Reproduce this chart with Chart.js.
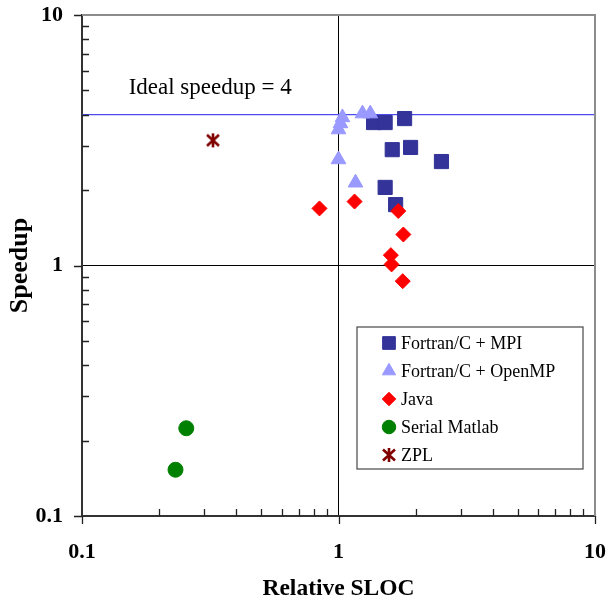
<!DOCTYPE html>
<html>
<head>
<meta charset="utf-8">
<script src="https://cdn.jsdelivr.net/npm/chart.js@4/dist/chart.umd.min.js"></script>
<style>
  html, body { margin: 0; padding: 0; background: #fff; }
  #wrap { width: 607px; height: 601px; }
</style>
</head>
<body>
<div id="wrap"><canvas id="chart" width="607" height="601"></canvas></div>
<script>
// Speedup vs relative SLOC, log-log

const mpiSloc = [1.37, 1.52, 1.81, 1.62, 1.91, 2.52, 1.52, 1.67];
const mpiSpeedup = [3.72, 3.72, 3.86, 2.90, 2.96, 2.60, 2.05, 1.75];

const ompSloc = [1.036, 1.018, 1.0, 1.24, 1.33, 1.0, 1.165];
const ompSpeedup = [3.90, 3.69, 3.49, 4.04, 4.04, 2.65, 2.14];

const javaSloc = [0.843, 1.155, 1.71, 1.79, 1.60, 1.61, 1.78];
const javaSpeedup = [1.69, 1.80, 1.65, 1.33, 1.10, 1.01, 0.866];

const matlabSloc = [0.255, 0.2315];
const matlabSpeedup = [0.224, 0.153];

const zplSloc = [0.324];
const zplSpeedup = [3.16];

const idealSpeedup = 4;
const tickValues = [0.1, 0.2, 0.3, 0.4, 0.5, 0.6, 0.7, 0.8, 0.9, 1, 2, 3, 4, 5, 6, 7, 8, 9, 10];
const majorTicks = [0.1, 1, 10];
const majorLabels = ["0.1", "1", "10"];

const SERIF = "'Liberation Serif', 'Times New Roman', serif";

const toPoints = (xs, ys) => xs.map((x, i) => ({ x, y: ys[i] }));

// asterisk marker (X with a vertical bar)
const starMarker = (() => {
  const c = document.createElement("canvas");
  c.width = 18; c.height = 18;
  const g = c.getContext("2d");
  g.strokeStyle = "#800000";
  g.lineWidth = 2.6;
  g.beginPath();
  g.moveTo(9, 2); g.lineTo(9, 16);
  g.moveTo(3, 3.5); g.lineTo(15, 14.5);
  g.moveTo(15, 3.5); g.lineTo(3, 14.5);
  g.stroke();
  return c;
})();

const markerSet = (label, xs, ys, style, color, radius, order) => ({
  label,
  data: toPoints(xs, ys),
  pointStyle: style,
  pointRadius: radius,
  pointBackgroundColor: color,
  pointBorderColor: color,
  pointBorderWidth: 1,
  showLine: false,
  order,
});

const datasets = [
  markerSet("Fortran/C + MPI", mpiSloc, mpiSpeedup, "rect", "#333399", 10, 5),
  markerSet("Fortran/C + OpenMP", ompSloc, ompSpeedup, "triangle", "#9999ff", 8.5, 4),
  markerSet("Java", javaSloc, javaSpeedup, "rectRot", "#ff0000", 7.5, 3),
  markerSet("Serial Matlab", matlabSloc, matlabSpeedup, "circle", "#008000", 7.5, 2),
  markerSet("ZPL", zplSloc, zplSpeedup, starMarker, "#800000", 8, 1),
  {
    label: "ideal",
    data: [{ x: 0.1, y: idealSpeedup }, { x: 10, y: idealSpeedup }],
    showLine: true,
    borderColor: "#4b4bef",
    borderWidth: 1.2,
    pointRadius: 0,
    order: 6,
  },
];

const labelFor = (v) => {
  const i = majorTicks.indexOf(v);
  return i >= 0 ? majorLabels[i] : "";
};

const gridColor = (ctx) => (ctx.tick && ctx.tick.value === 1 ? "#000" : "rgba(0,0,0,0)");

const noPadding = (s) => {
  s.paddingTop = 0; s.paddingBottom = 0; s.paddingLeft = 0; s.paddingRight = 0;
};

// frame on top/right + inside minor ticks, outside major ticks
const framePlugin = {
  id: "frame",
  afterDraw(chart) {
    const { ctx, chartArea: a, scales } = chart;
    ctx.save();
    ctx.strokeStyle = "#8c8c8c";
    ctx.lineWidth = 2;
    ctx.beginPath();
    ctx.moveTo(a.left, a.top); ctx.lineTo(a.right, a.top); ctx.lineTo(a.right, a.bottom);
    ctx.stroke();

    ctx.strokeStyle = "#222";
    ctx.lineWidth = 1.3;
    ctx.beginPath();
    tickValues.forEach((v) => {
      const major = majorTicks.includes(v);
      const px = Math.round(scales.x.getPixelForValue(v)) + 0.5;
      const py = Math.round(scales.y.getPixelForValue(v)) + 0.5;
      if (major) {
        ctx.moveTo(px, a.bottom); ctx.lineTo(px, a.bottom + 8);
        ctx.moveTo(a.left - 8, py); ctx.lineTo(a.left, py);
      } else {
        ctx.moveTo(px, a.bottom); ctx.lineTo(px, a.bottom - 7);
        ctx.moveTo(a.left, py); ctx.lineTo(a.left + 7, py);
      }
    });
    ctx.stroke();
    ctx.restore();
  },
};

const idealLabelPlugin = {
  id: "idealLabel",
  afterDatasetsDraw(chart) {
    const { ctx, scales } = chart;
    ctx.save();
    ctx.fillStyle = "#000";
    ctx.font = "23px " + SERIF;
    ctx.textAlign = "left";
    ctx.textBaseline = "alphabetic";
    ctx.fillText("Ideal speedup = " + idealSpeedup, scales.x.getPixelForValue(0.152), scales.y.getPixelForValue(idealSpeedup) - 21);
    ctx.restore();
  },
};

const boxLegendPlugin = {
  id: "boxLegend",
  afterDraw(chart) {
    const { ctx } = chart;
    const box = { left: 357, top: 327, right: 583, bottom: 469 };
    ctx.save();
    ctx.fillStyle = "#fff";
    ctx.fillRect(box.left, box.top, box.right - box.left, box.bottom - box.top);
    ctx.strokeStyle = "#555";
    ctx.lineWidth = 1.3;
    ctx.strokeRect(box.left, box.top, box.right - box.left, box.bottom - box.top);
    ctx.font = "18px " + SERIF;
    ctx.textBaseline = "middle";
    ctx.textAlign = "left";
    const items = chart.data.datasets.filter((d) => d.label !== "ideal");
    items.forEach((d, i) => {
      const y = 343 + i * 28;
      ctx.fillStyle = d.pointBackgroundColor;
      ctx.strokeStyle = d.pointBorderColor;
      ctx.lineWidth = 1;
      Chart.helpers.drawPoint(ctx, { pointStyle: d.pointStyle, radius: d.pointRadius * 0.9, rotation: 0, borderWidth: 1 }, 389, y);
      ctx.fillStyle = "#000";
      ctx.fillText(d.label, 401, y + 1);
    });
    ctx.restore();
  },
};

new Chart(document.getElementById("chart"), {
  type: "scatter",
  data: { datasets },
  options: {
    responsive: false,
    animation: false,
    layout: { padding: { top: 15, right: 12, left: 0, bottom: 0 } },
    plugins: { legend: { display: false }, tooltip: { enabled: false } },
    scales: {
      x: {
        type: "logarithmic",
        min: 0.1,
        max: 10,
        afterBuildTicks: (s) => { s.ticks = tickValues.map((v) => ({ value: v })); },
        afterFit: (s) => { s.height = 85; noPadding(s); },
        ticks: {
          autoSkip: false,
          maxRotation: 0,
          padding: 23,
          color: "#000",
          font: { family: SERIF, size: 22, weight: "bold" },
          callback: (v) => labelFor(v),
        },
        grid: { drawTicks: false, color: gridColor, lineWidth: 1 },
        border: { color: "#333", width: 2 },
        title: {
          display: true,
          text: "Relative SLOC",
          color: "#000",
          font: { family: SERIF, size: 23.5, weight: "bold", lineHeight: 1 },
          padding: { top: 0, bottom: 0 },
        },
      },
      y: {
        type: "logarithmic",
        min: 0.1,
        max: 10,
        afterBuildTicks: (s) => { s.ticks = tickValues.map((v) => ({ value: v })); },
        afterFit: (s) => { s.width = 82; noPadding(s); },
        ticks: {
          autoSkip: false,
          padding: 19,
          color: "#000",
          font: { family: SERIF, size: 22, weight: "bold" },
          callback: (v) => labelFor(v),
        },
        grid: { drawTicks: false, color: gridColor, lineWidth: 1 },
        border: { color: "#333", width: 2 },
        title: {
          display: true,
          text: "Speedup",
          color: "#000",
          font: { family: SERIF, size: 26, weight: "bold", lineHeight: 1 },
          padding: { top: 7, bottom: 0 },
        },
      },
    },
  },
  plugins: [framePlugin, idealLabelPlugin, boxLegendPlugin],
});
</script>
</body>
</html>
